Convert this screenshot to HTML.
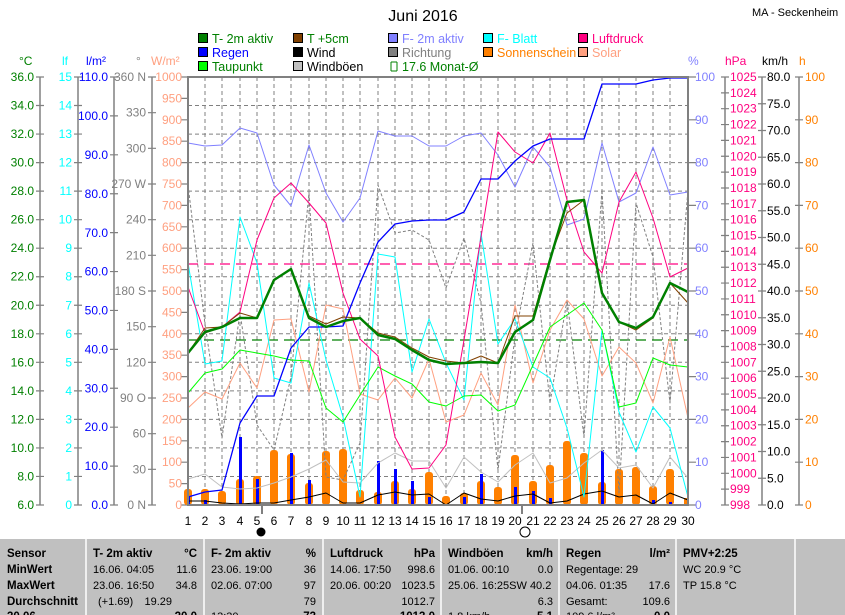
<!DOCTYPE html>
<html><head><meta charset="utf-8"><style>
body{margin:0;background:#fff;width:845px;height:615px;overflow:hidden;font-family:"Liberation Sans",sans-serif}
svg{display:block;font-size:12px;font-family:"Liberation Sans",sans-serif}
</style></head><body>
<svg width="845" height="615" viewBox="0 0 845 615" xmlns="http://www.w3.org/2000/svg">
<rect width="845" height="615" fill="#fff"/>
<text x="423" y="21" font-size="16" text-anchor="middle">Juni 2016</text>
<text x="752" y="16" font-size="11">MA - Seckenheim</text>
<!-- legend -->
<g font-size="12.5">
<rect x="198.5" y="33.5" width="9" height="9" fill="#008000" stroke="#000"/><text x="212" y="43" fill="#008000">T- 2m aktiv</text>
<rect x="198.5" y="47.5" width="9" height="9" fill="#0000ff" stroke="#000"/><text x="212" y="57" fill="#0000ff">Regen</text>
<rect x="198.5" y="61.5" width="9" height="9" fill="#00ff00" stroke="#000"/><text x="212" y="71" fill="#008000">Taupunkt</text>
<rect x="293.5" y="33.5" width="9" height="9" fill="#804000" stroke="#000"/><text x="307" y="43" fill="#008000">T +5cm</text>
<rect x="293.5" y="47.5" width="9" height="9" fill="#000" stroke="#000"/><text x="307" y="57" fill="#000">Wind</text>
<rect x="293.5" y="61.5" width="9" height="9" fill="#c0c0c0" stroke="#000"/><text x="307" y="71" fill="#000">Windböen</text>
<rect x="388.5" y="33.5" width="9" height="9" fill="#8080ff" stroke="#000"/><text x="402" y="43" fill="#8080ff">F- 2m aktiv</text>
<rect x="388.5" y="47.5" width="9" height="9" fill="#808080" stroke="#000"/><text x="402" y="57" fill="#808080">Richtung</text>
<path d="M391 62H397M391 62V71M391 71H397M397 62V71" stroke="#008000" fill="none"/><text x="402" y="71" fill="#008000">17.6 Monat-Ø</text>
<rect x="483.5" y="33.5" width="9" height="9" fill="#00ffff" stroke="#000"/><text x="497" y="43" fill="#00ffff">F- Blatt</text>
<rect x="483.5" y="47.5" width="9" height="9" fill="#ff8000" stroke="#000"/><text x="497" y="57" fill="#ff8000">Sonnenschein</text>
<rect x="578.5" y="33.5" width="9" height="9" fill="#ff0080" stroke="#000"/><text x="592" y="43" fill="#ff0080">Luftdruck</text>
<rect x="578.5" y="47.5" width="9" height="9" fill="#ffa080" stroke="#000"/><text x="592" y="57" fill="#ffa080">Solar</text>
</g>
<!-- unit headers -->
<text x="19" y="65" fill="#008000">°C</text>
<text x="62" y="65" fill="#00ffff">lf</text>
<text x="86" y="65" fill="#0000ff">l/m²</text>
<text x="136" y="65" fill="#808080">°</text>
<text x="151" y="65" fill="#ffa080">W/m²</text>
<text x="688" y="65" fill="#8080ff">%</text>
<text x="725" y="65" fill="#ff0080">hPa</text>
<text x="762" y="65" fill="#000">km/h</text>
<text x="799" y="65" fill="#ff8000">h</text>
<!-- axis lines -->
<g stroke="#808080" stroke-width="1.5">
<line x1="40" y1="77" x2="40" y2="505"/><line x1="78" y1="77" x2="78" y2="505"/>
<line x1="114" y1="77" x2="114" y2="505"/><line x1="152" y1="77" x2="152" y2="505"/>
<line x1="725" y1="77" x2="725" y2="505"/><line x1="762" y1="77" x2="762" y2="505"/>
<line x1="799" y1="77" x2="799" y2="505"/>
</g>
<!-- ticks -->
<g stroke="#808080" stroke-width="8">
<line x1="40" y1="76.4" x2="40" y2="506" stroke-dasharray="1.2 27.333"/>
<line x1="78" y1="76.4" x2="78" y2="506" stroke-dasharray="1.2 27.333"/>
<line x1="114" y1="76.4" x2="114" y2="506" stroke-dasharray="1.2 37.709"/>
<line x1="152" y1="76.4" x2="152" y2="506" stroke-dasharray="1.2 34.467"/>
<line x1="185" y1="76.4" x2="185" y2="506" stroke-dasharray="1.2 20.2"/>
<line x1="692" y1="76.4" x2="692" y2="506" stroke-dasharray="1.2 41.6"/>
<line x1="725" y1="76.4" x2="725" y2="506" stroke-dasharray="1.2 14.652"/>
<line x1="762" y1="76.4" x2="762" y2="506" stroke-dasharray="1.2 25.55"/>
<line x1="799" y1="76.4" x2="799" y2="506" stroke-dasharray="1.2 41.6"/>
</g>
<!-- grid -->
<g stroke="#808080" stroke-dasharray="4,3" stroke-width="1">
<line x1="188" y1="105.5" x2="688" y2="105.5"/><line x1="188" y1="134.1" x2="688" y2="134.1"/><line x1="188" y1="162.6" x2="688" y2="162.6"/><line x1="188" y1="191.1" x2="688" y2="191.1"/><line x1="188" y1="219.7" x2="688" y2="219.7"/><line x1="188" y1="248.2" x2="688" y2="248.2"/><line x1="188" y1="276.7" x2="688" y2="276.7"/><line x1="188" y1="305.3" x2="688" y2="305.3"/><line x1="188" y1="333.8" x2="688" y2="333.8"/><line x1="188" y1="362.3" x2="688" y2="362.3"/><line x1="188" y1="390.9" x2="688" y2="390.9"/><line x1="188" y1="419.4" x2="688" y2="419.4"/><line x1="188" y1="447.9" x2="688" y2="447.9"/><line x1="188" y1="476.5" x2="688" y2="476.5"/>
<line x1="205" y1="77" x2="205" y2="505"/><line x1="222" y1="77" x2="222" y2="505"/><line x1="240" y1="77" x2="240" y2="505"/><line x1="257" y1="77" x2="257" y2="505"/><line x1="274" y1="77" x2="274" y2="505"/><line x1="291" y1="77" x2="291" y2="505"/><line x1="309" y1="77" x2="309" y2="505"/><line x1="326" y1="77" x2="326" y2="505"/><line x1="343" y1="77" x2="343" y2="505"/><line x1="360" y1="77" x2="360" y2="505"/><line x1="378" y1="77" x2="378" y2="505"/><line x1="395" y1="77" x2="395" y2="505"/><line x1="412" y1="77" x2="412" y2="505"/><line x1="429" y1="77" x2="429" y2="505"/><line x1="446" y1="77" x2="446" y2="505"/><line x1="464" y1="77" x2="464" y2="505"/><line x1="481" y1="77" x2="481" y2="505"/><line x1="498" y1="77" x2="498" y2="505"/><line x1="515" y1="77" x2="515" y2="505"/><line x1="533" y1="77" x2="533" y2="505"/><line x1="550" y1="77" x2="550" y2="505"/><line x1="567" y1="77" x2="567" y2="505"/><line x1="584" y1="77" x2="584" y2="505"/><line x1="602" y1="77" x2="602" y2="505"/><line x1="619" y1="77" x2="619" y2="505"/><line x1="636" y1="77" x2="636" y2="505"/><line x1="653" y1="77" x2="653" y2="505"/><line x1="670" y1="77" x2="670" y2="505"/>
</g>
<!-- left labels -->
<g fill="#008000" text-anchor="end">
<text x="34" y="81">36.0</text><text x="34" y="109.5">34.0</text><text x="34" y="138">32.0</text><text x="34" y="166.6">30.0</text><text x="34" y="195">28.0</text><text x="34" y="223.7">26.0</text><text x="34" y="252.2">24.0</text><text x="34" y="280.7">22.0</text><text x="34" y="309.3">20.0</text><text x="34" y="337.8">18.0</text><text x="34" y="366.3">16.0</text><text x="34" y="394.9">14.0</text><text x="34" y="423.4">12.0</text><text x="34" y="451.9">10.0</text><text x="34" y="480.5">8.0</text><text x="34" y="509">6.0</text>
</g>
<g fill="#00ffff" text-anchor="end">
<text x="72" y="81">15</text><text x="72" y="109.5">14</text><text x="72" y="138">13</text><text x="72" y="166.6">12</text><text x="72" y="195">11</text><text x="72" y="223.7">10</text><text x="72" y="252.2">9</text><text x="72" y="280.7">8</text><text x="72" y="309.3">7</text><text x="72" y="337.8">6</text><text x="72" y="366.3">5</text><text x="72" y="394.9">4</text><text x="72" y="423.4">3</text><text x="72" y="451.9">2</text><text x="72" y="480.5">1</text><text x="72" y="509">0</text>
</g>
<g fill="#0000ff" text-anchor="end">
<text x="108" y="81">110.0</text><text x="108" y="120">100.0</text><text x="108" y="159">90.0</text><text x="108" y="198">80.0</text><text x="108" y="237">70.0</text><text x="108" y="275.5">60.0</text><text x="108" y="314.5">50.0</text><text x="108" y="353.4">40.0</text><text x="108" y="392.3">30.0</text><text x="108" y="431.2">20.0</text><text x="108" y="470">10.0</text><text x="108" y="509">0.0</text>
</g>
<g fill="#808080" text-anchor="end">
<text x="146" y="81">360 N</text><text x="146" y="116.7">330</text><text x="146" y="152.3">300</text><text x="146" y="188">270 W</text><text x="146" y="223.7">240</text><text x="146" y="259.3">210</text><text x="146" y="295">180 S</text><text x="146" y="330.7">150</text><text x="146" y="366.3">120</text><text x="146" y="402">90 O</text><text x="146" y="437.7">60</text><text x="146" y="473.3">30</text><text x="146" y="509">0 N</text>
</g>
<g fill="#ffa080" text-anchor="end">
<text x="182" y="81">1000</text><text x="182" y="102.4">950</text><text x="182" y="123.8">900</text><text x="182" y="145.2">850</text><text x="182" y="166.6">800</text><text x="182" y="188">750</text><text x="182" y="209.4">700</text><text x="182" y="230.8">650</text><text x="182" y="252.2">600</text><text x="182" y="273.6">550</text><text x="182" y="295">500</text><text x="182" y="316.4">450</text><text x="182" y="337.8">400</text><text x="182" y="359.2">350</text><text x="182" y="380.6">300</text><text x="182" y="402">250</text><text x="182" y="423.4">200</text><text x="182" y="444.8">150</text><text x="182" y="466.2">100</text><text x="182" y="487.6">50</text><text x="182" y="509">0</text>
</g>
<!-- right labels -->
<g fill="#8080ff">
<text x="695" y="81">100</text><text x="695" y="123.8">90</text><text x="695" y="166.6">80</text><text x="695" y="209.4">70</text><text x="695" y="252.2">60</text><text x="695" y="295">50</text><text x="695" y="337.8">40</text><text x="695" y="380.6">30</text><text x="695" y="423.4">20</text><text x="695" y="466.2">10</text><text x="695" y="509">0</text>
</g>
<g fill="#ff0080">
<text x="730" y="81">1025</text><text x="730" y="96.9">1024</text><text x="730" y="112.7">1023</text><text x="730" y="128.6">1022</text><text x="730" y="144.4">1021</text><text x="730" y="160.3">1020</text><text x="730" y="176.1">1019</text><text x="730" y="192">1018</text><text x="730" y="207.8">1017</text><text x="730" y="223.7">1016</text><text x="730" y="239.5">1015</text><text x="730" y="255.4">1014</text><text x="730" y="271.2">1013</text><text x="730" y="287.1">1012</text><text x="730" y="302.9">1011</text><text x="730" y="318.8">1010</text><text x="730" y="334.6">1009</text><text x="730" y="350.5">1008</text><text x="730" y="366.3">1007</text><text x="730" y="382.2">1006</text><text x="730" y="398">1005</text><text x="730" y="413.9">1004</text><text x="730" y="429.7">1003</text><text x="730" y="445.6">1002</text><text x="730" y="461.4">1001</text><text x="730" y="477.3">1000</text><text x="730" y="493.1">999</text><text x="730" y="509">998</text>
</g>
<g fill="#000">
<text x="767" y="81">80.0</text><text x="767" y="107.8">75.0</text><text x="767" y="134.5">70.0</text><text x="767" y="161.3">65.0</text><text x="767" y="188">60.0</text><text x="767" y="214.8">55.0</text><text x="767" y="241.5">50.0</text><text x="767" y="268.3">45.0</text><text x="767" y="295">40.0</text><text x="767" y="321.8">35.0</text><text x="767" y="348.5">30.0</text><text x="767" y="375.3">25.0</text><text x="767" y="402">20.0</text><text x="767" y="428.8">15.0</text><text x="767" y="455.5">10.0</text><text x="767" y="482.3">5.0</text><text x="767" y="509">0.0</text>
</g>
<g fill="#ff8000">
<text x="805" y="81">100</text><text x="805" y="123.8">90</text><text x="805" y="166.6">80</text><text x="805" y="209.4">70</text><text x="805" y="252.2">60</text><text x="805" y="295">50</text><text x="805" y="337.8">40</text><text x="805" y="380.6">30</text><text x="805" y="423.4">20</text><text x="805" y="466.2">10</text><text x="805" y="509">0</text>
</g>
<!-- reference lines -->
<line x1="188" y1="264" x2="688" y2="264" stroke="#ff0080" stroke-width="1.2" stroke-dasharray="10,6"/>
<line x1="188" y1="340" x2="688" y2="340" stroke="#008000" stroke-width="1.2" stroke-dasharray="10,6"/>
<!-- sunshine bars -->
<g fill="#ff8000">
<rect x="184" y="489" width="8" height="16" rx="3"/><rect x="201" y="489" width="8" height="16" rx="3"/><rect x="218" y="491" width="8" height="14" rx="3"/><rect x="236" y="479" width="8" height="26" rx="3"/><rect x="253" y="476" width="8" height="29" rx="3"/><rect x="270" y="450" width="8" height="55" rx="3"/><rect x="287" y="454" width="8" height="51" rx="3"/><rect x="305" y="483" width="8" height="22" rx="3"/><rect x="322" y="451" width="8" height="54" rx="3"/><rect x="339" y="449" width="8" height="56" rx="3"/><rect x="356" y="490" width="8" height="15" rx="3"/><rect x="374" y="492" width="8" height="13" rx="3"/><rect x="391" y="481" width="8" height="24" rx="3"/><rect x="408" y="489" width="8" height="16" rx="3"/><rect x="425" y="472" width="8" height="33" rx="3"/><rect x="442" y="496" width="8" height="9" rx="3"/><rect x="460" y="493" width="8" height="12" rx="3"/><rect x="477" y="481" width="8" height="24" rx="3"/><rect x="494" y="487" width="8" height="18" rx="3"/><rect x="511" y="455" width="8" height="50" rx="3"/><rect x="529" y="481" width="8" height="24" rx="3"/><rect x="546" y="465" width="8" height="40" rx="3"/><rect x="563" y="441" width="8" height="64" rx="3"/><rect x="580" y="453" width="8" height="52" rx="3"/><rect x="598" y="482" width="8" height="23" rx="3"/><rect x="615" y="469" width="8" height="36" rx="3"/><rect x="632" y="467" width="8" height="38" rx="3"/><rect x="649" y="486" width="8" height="19" rx="3"/><rect x="666" y="469" width="8" height="36" rx="3"/><rect x="684" y="498" width="4" height="7"/>
</g>
<!-- rain bars -->
<g fill="#0000ff">
<rect x="187" y="497" width="3" height="8"/><rect x="204" y="500" width="3" height="5"/><rect x="239" y="437" width="3" height="68"/><rect x="256" y="479" width="3" height="26"/><rect x="290" y="453" width="3" height="52"/><rect x="308" y="480" width="3" height="25"/><rect x="377" y="461" width="3" height="44"/><rect x="394" y="469" width="3" height="36"/><rect x="411" y="481" width="3" height="24"/><rect x="428" y="497" width="3" height="8"/><rect x="463" y="497" width="3" height="8"/><rect x="480" y="474" width="3" height="31"/><rect x="514" y="487" width="3" height="18"/><rect x="532" y="491" width="3" height="14"/><rect x="549" y="498" width="3" height="7"/><rect x="601" y="450" width="3" height="55"/><rect x="652" y="500" width="3" height="5"/><rect x="669" y="502" width="3" height="3"/>
</g>
<!-- series -->
<g fill="none" stroke-linejoin="round">
<polyline stroke="#808080" stroke-dasharray="3,2" points="188,185 205,324 222,438 240,313 257,425 274,450 291,377 309,193 326,477 343,480 360,443 378,185 395,233 412,230 429,240 446,288 464,238 481,303 498,470 515,337 533,243 550,403 567,300 584,437 602,190 619,493 636,203 653,257 670,403 688,190"/>
<polyline stroke="#ffa080" points="188,408 205,392 222,399 240,363 257,388 274,320 291,319 309,392 326,305 343,309 360,394 378,400 395,378 412,398 429,359 446,422 464,415 481,373 498,405 515,305 533,383 550,330 567,300 584,319 602,376 619,347 636,363 653,403 670,337 688,418"/>
<polyline stroke="#c0c0c0" points="188,479 205,474 222,487 240,489 257,488 274,483 291,477 309,469 326,460 343,482 360,483 378,463 395,453 412,461 429,461 446,488 464,457 481,472 498,482 515,465 533,453 550,483 567,478 584,463 602,450 619,468 636,465 653,488 670,457 688,478"/>
<polyline stroke="#000" points="188,501 205,501 222,503 240,504 257,503 274,503 291,500 309,497 326,493 343,503 360,503 378,495 395,492 412,495 429,494 446,505 464,493 481,499 498,501 515,496 533,494 550,503 567,501 584,494 602,491 619,497 636,495 653,504 670,493 688,500"/>
<polyline stroke="#00ffff" points="188,263 205,364 222,361 240,217 257,263 274,378 291,383 309,283 326,360 343,417 360,497 378,254 395,257 412,372 429,319 446,363 464,400 481,233 498,344 515,319 533,367 550,378 567,428 584,497 602,330 619,412 636,452 653,407 670,428 688,497"/>
<polyline stroke="#00ff00" points="188,393 205,373 222,369 240,350 257,353 274,356 291,360 309,361 326,408 343,422 360,395 378,367 395,376 412,384 429,402 446,406 464,396 481,395 498,411 515,405 533,365 550,327 567,315 584,303 602,330 619,407 636,403 653,358 670,365 688,367"/>
<polyline stroke="#8080ff" points="188,143 205,146 222,145 240,128 257,133 274,185 291,206 309,145 326,193 343,222 360,198 378,131 395,136 412,136 429,146 446,146 464,136 481,133 498,155 515,187 533,147 550,167 567,225 584,219 602,143 619,202 636,193 653,147 670,195 688,192"/>
<polyline stroke="#ff0080" points="188,287 205,333 222,327 240,312 257,240 274,198 291,183 309,203 326,223 343,293 360,339 378,356 395,437 412,469 429,468 446,445 464,340 481,237 498,132 515,152 533,163 550,133 567,200 584,252 602,273 619,202 636,172 653,218 670,277 688,268"/>
<polyline stroke="#0000ff" stroke-width="1.3" points="188,497 205,492 222,490 240,423 257,396 274,396 291,348 309,327 326,327 343,326 360,283 378,242 395,224 412,221 429,220 446,220 464,212 481,179 498,179 515,161 533,146 550,139 567,139 584,139 602,84 619,84 636,84 653,80 670,78 688,78"/>
<polyline stroke="#804000" points="188,353 205,328 222,327 240,313 257,318 274,280 291,269 309,316 326,324 343,317 360,318 378,333 395,337 412,348 429,357 446,361 464,363 481,356 498,363 515,316 533,316 550,258 567,213 584,200 602,293 619,322 636,330 653,318 670,283 688,303"/>
<polyline stroke="#008000" stroke-width="2.5" points="188,353 205,332 222,327 240,318 257,318 274,280 291,269 309,318 326,327 343,321 360,318 378,335 395,339 412,350 429,360 446,364 464,363 481,362 498,363 515,332 533,320 550,260 567,202 584,200 602,293 619,322 636,328 653,317 670,283 688,292"/>
</g>
<!-- frame -->
<rect x="188" y="77" width="500" height="428" fill="none" stroke="#808080" stroke-width="2"/>
<!-- day labels -->
<g text-anchor="middle" fill="#000">
<text x="188" y="525">1</text><text x="205" y="525">2</text><text x="222" y="525">3</text><text x="240" y="525">4</text><text x="257" y="525">5</text><text x="274" y="525">6</text><text x="291" y="525">7</text><text x="309" y="525">8</text><text x="326" y="525">9</text><text x="343" y="525">10</text><text x="360" y="525">11</text><text x="378" y="525">12</text><text x="395" y="525">13</text><text x="412" y="525">14</text><text x="429" y="525">15</text><text x="446" y="525">16</text><text x="464" y="525">17</text><text x="481" y="525">18</text><text x="498" y="525">19</text><text x="515" y="525">20</text><text x="533" y="525">21</text><text x="550" y="525">22</text><text x="567" y="525">23</text><text x="584" y="525">24</text><text x="602" y="525">25</text><text x="619" y="525">26</text><text x="636" y="525">27</text><text x="653" y="525">28</text><text x="670" y="525">29</text><text x="688" y="525">30</text>
</g>
<line x1="262" y1="506" x2="262" y2="514" stroke="#000"/>
<line x1="522" y1="506" x2="522" y2="514" stroke="#000"/>
<circle cx="261" cy="532" r="4.5" fill="#000"/>
<circle cx="525" cy="532" r="5" fill="#fff" stroke="#000"/>
<!-- table -->
<rect x="0" y="539" width="845" height="76" fill="#c0c0c0"/>
<g stroke="#fff" stroke-width="1.5">
<line x1="86" y1="539" x2="86" y2="615"/><line x1="204" y1="539" x2="204" y2="615"/><line x1="323" y1="539" x2="323" y2="615"/><line x1="441" y1="539" x2="441" y2="615"/><line x1="559" y1="539" x2="559" y2="615"/><line x1="676" y1="539" x2="676" y2="615"/><line x1="795" y1="539" x2="795" y2="615"/>
</g>
<g font-size="11.5" fill="#000">
<g font-weight="bold">
<text x="7" y="557">Sensor</text><text x="7" y="573">MinWert</text><text x="7" y="589">MaxWert</text><text x="7" y="605">Durchschnitt</text><text x="7" y="620">30.06</text>
<text x="93" y="557">T- 2m aktiv</text><text x="197" y="557" text-anchor="end">°C</text>
<text x="211" y="557">F- 2m aktiv</text><text x="316" y="557" text-anchor="end">%</text>
<text x="330" y="557">Luftdruck</text><text x="435" y="557" text-anchor="end">hPa</text>
<text x="448" y="557">Windböen</text><text x="553" y="557" text-anchor="end">km/h</text>
<text x="566" y="557">Regen</text><text x="670" y="557" text-anchor="end">l/m²</text>
<text x="683" y="557">PMV+2:25</text>
<text x="197" y="620" text-anchor="end">20.0</text><text x="316" y="620" text-anchor="end">73</text><text x="435" y="620" text-anchor="end">1013.0</text><text x="553" y="620" text-anchor="end">5.1</text><text x="670" y="620" text-anchor="end">0.0</text>
</g>
<g font-size="11">
<text x="93" y="573">16.06. 04:05</text><text x="197" y="573" text-anchor="end">11.6</text>
<text x="93" y="589">23.06. 16:50</text><text x="197" y="589" text-anchor="end">34.8</text>
<text x="98" y="605">(+1.69)</text><text x="172" y="605" text-anchor="end">19.29</text>
<text x="211" y="573">23.06. 19:00</text><text x="316" y="573" text-anchor="end">36</text>
<text x="211" y="589">02.06. 07:00</text><text x="316" y="589" text-anchor="end">97</text>
<text x="316" y="605" text-anchor="end">79</text>
<text x="330" y="573">14.06. 17:50</text><text x="435" y="573" text-anchor="end">998.6</text>
<text x="330" y="589">20.06. 00:20</text><text x="435" y="589" text-anchor="end">1023.5</text>
<text x="435" y="605" text-anchor="end">1012.7</text>
<text x="448" y="573">01.06. 00:10</text><text x="553" y="573" text-anchor="end">0.0</text>
<text x="448" y="589">25.06. 16:25SW 40.2</text>
<text x="553" y="605" text-anchor="end">6.3</text>
<text x="566" y="573">Regentage: 29</text>
<text x="566" y="589">04.06. 01:35</text><text x="670" y="589" text-anchor="end">17.6</text>
<text x="566" y="605">Gesamt:</text><text x="670" y="605" text-anchor="end">109.6</text>
<text x="683" y="573">WC 20.9 °C</text>
<text x="683" y="589">TP 15.8 °C</text>
<text x="211" y="620">13:30 ..</text><text x="448" y="620">1.8 km/h</text><text x="566" y="620">109.6 l/m²</text>
</g>
</g>
</svg>
</body></html>
